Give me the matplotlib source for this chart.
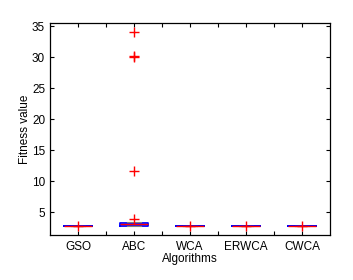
import matplotlib
matplotlib.use("Agg")
import matplotlib.pyplot as plt

plt.rcParams['font.family'] = ['Liberation Sans', 'DejaVu Sans']

algorithms = ["GSO", "ABC", "WCA", "ERWCA", "CWCA"]
q1 = [2.85, 2.88, 2.85, 2.85, 2.85]
med = [2.85, 3.10, 2.85, 2.85, 2.85]
q3 = [2.85, 3.30, 2.85, 2.85, 2.85]
whislo = [2.85, 2.85, 2.85, 2.85, 2.85]
whishi = [2.85, 3.45, 2.85, 2.85, 2.85]
fliers = [[2.86], [34.1, 30.15, 30.0, 11.6, 3.9], [2.86], [2.86], [2.86]]
yticks = [5, 10, 15, 20, 25, 30, 35]

stats = []
for i in range(len(algorithms)):
    stats.append(dict(med=med[i], q1=q1[i], q3=q3[i], whislo=whislo[i],
                      whishi=whishi[i], fliers=fliers[i], label=algorithms[i]))

fig = plt.figure(figsize=(3.53, 2.80), dpi=100)
ax = fig.add_axes([50/353, 1-235/280, 280/353, 212/280])

ax.bxp(stats, positions=range(1, 6), widths=0.5, showfliers=True,
       boxprops=dict(color='blue', linewidth=1.3),
       medianprops=dict(color='red', linewidth=1.0),
       whiskerprops=dict(color='black', linestyle='--', linewidth=0.8),
       capprops=dict(color='gray', linewidth=0.8),
       flierprops=dict(marker='+', markeredgecolor='red', markersize=6.5,
                       markeredgewidth=1.0, linestyle='none'))

ax.set_xlim(0.5, 5.5)
ax.set_ylim(1.35, 35.5)
ax.set_yticks(yticks)
ax.set_xticks(range(1, 6))
ax.set_xticklabels(algorithms)
ax.set_xticks([1.5, 2.5, 3.5, 4.5], minor=True)
ax.tick_params(axis='both', which='both', direction='in', top=True, right=True,
               labelsize=8.5, length=3, width=0.8)
ax.tick_params(axis='x', which='major', pad=4)
for s in ax.spines.values():
    s.set_linewidth(0.9)
ax.set_xlabel("Algorithms", fontsize=8.5, labelpad=0)
ax.set_ylabel("Fitness value", fontsize=8.5, labelpad=0.5)

fig.savefig("out.png", dpi=100)
